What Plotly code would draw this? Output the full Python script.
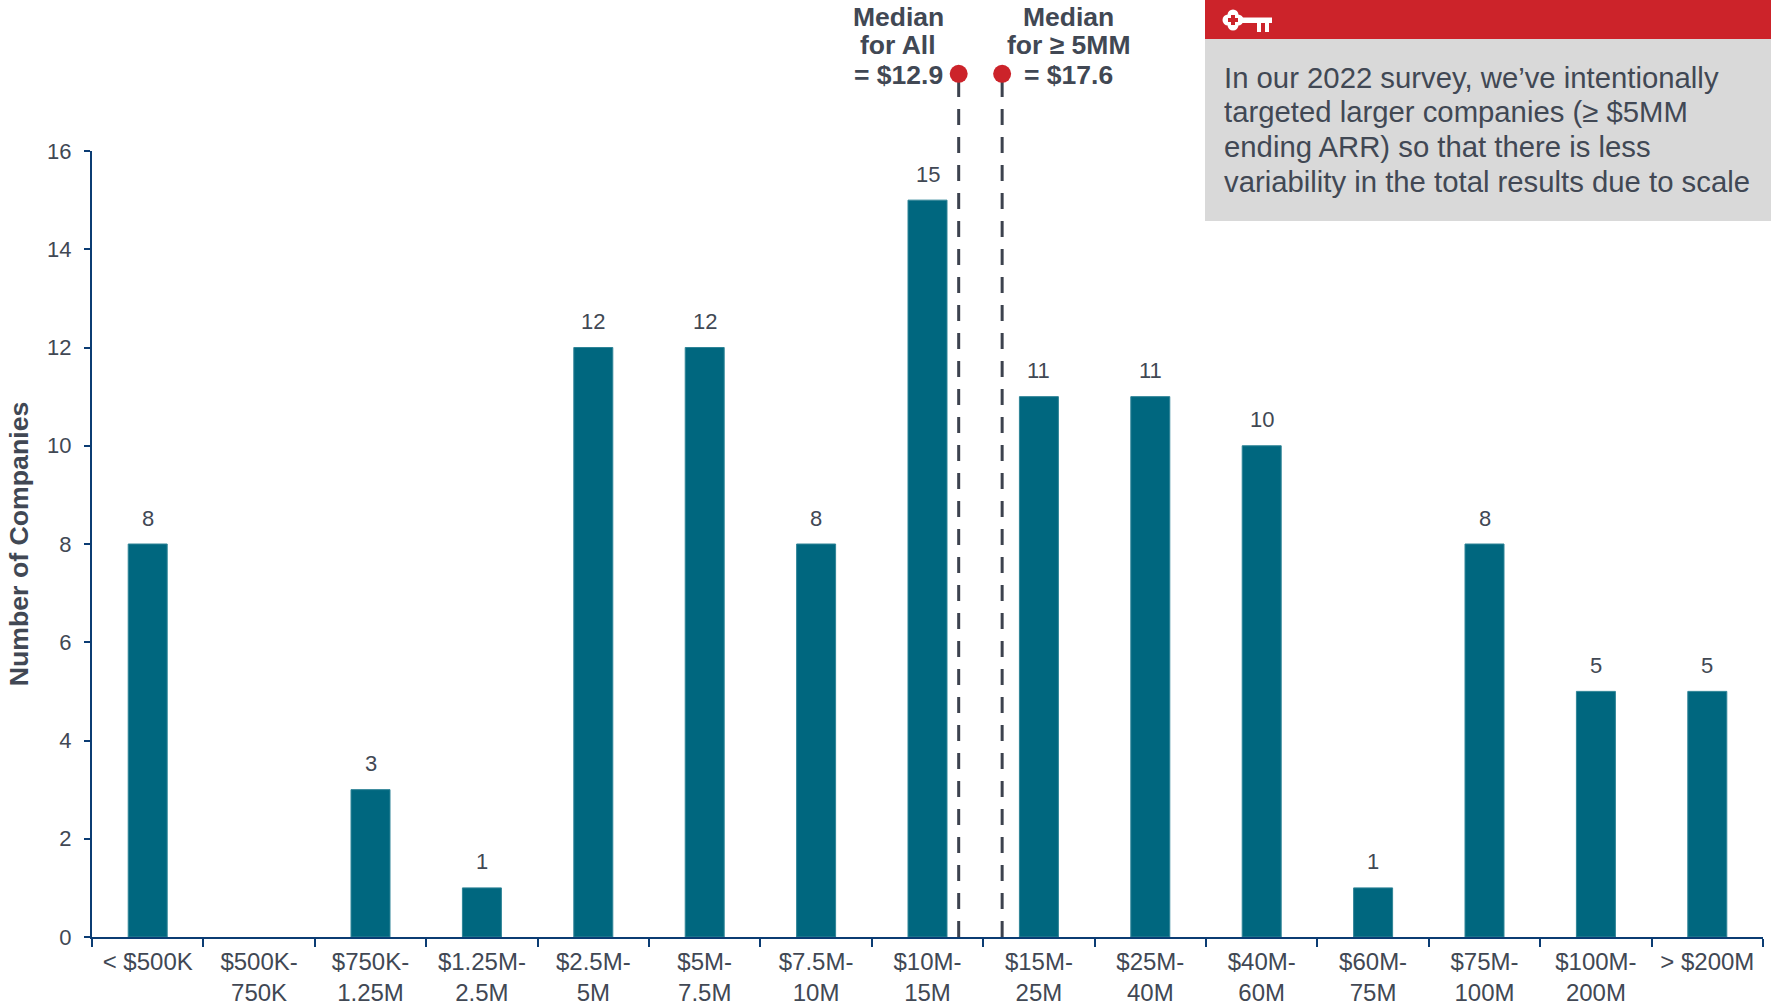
import plotly.graph_objects as go

# ARR bands and number of companies in each
categories = ["< $500K", "$500K-<br>750K", "$750K-<br>1.25M", "$1.25M-<br>2.5M", "$2.5M-<br>5M",
              "$5M-<br>7.5M", "$7.5M-<br>10M", "$10M-<br>15M", "$15M-<br>25M", "$25M-<br>40M",
              "$40M-<br>60M", "$60M-<br>75M", "$75M-<br>100M", "$100M-<br>200M", "> $200M"]
companies = [8, 0, 3, 1, 12, 12, 8, 15, 11, 11, 10, 1, 8, 5, 5]
y_ticks = [0, 2, 4, 6, 8, 10, 12, 14, 16]

# Median markers, placed on the band axis
median_positions = [7.28, 7.67]
median_top = 17.57

callout_lines = ["In our 2022 survey, we’ve intentionally",
                 "targeted larger companies (≥ $5MM",
                 "ending ARR) so that there is less",
                 "variability in the total results due to scale"]

W, H = 1771, 1005
L, R, T, B = 92, 1763, 151, 937   # bar axes
TOP = 40                          # top of the taller axes used by the median lines
FONT = "Liberation Sans"
TEXT = "#414854"
NAVY = "#0b3c73"
TEAL = "#00677f"
RED = "#cc232a"
UNIT = (B - T) / 16               # pixels per company


def px(x):
    return (x - L) / (R - L)


def py(y):
    return (B - y) / (B - TOP)


def label(text, x, y, size, anchor="center", bold=False):
    return dict(text=f"<b>{text}</b>" if bold else text, x=px(x), y=py(y), xref="paper", yref="paper",
                showarrow=False, xanchor=anchor, yanchor="middle",
                font=dict(family=FONT, size=size, color=TEXT))


def rect(x0, y0, x1, y1, color):
    return dict(type="rect", xref="paper", yref="paper", x0=px(x0), x1=px(x1), y0=py(y0), y1=py(y1),
                fillcolor=color, line_width=0, layer="above")


def disc(cx, cy, r, color):
    return dict(type="circle", xref="paper", yref="paper", x0=px(cx - r), x1=px(cx + r),
                y0=py(cy - r), y1=py(cy + r), fillcolor=color, line_width=0, layer="above")


fig = go.Figure()
fig.add_bar(x=categories, y=companies, width=0.35,
            marker=dict(color=TEAL, line=dict(color="#2f8497", width=[1 if v else 0 for v in companies])))

for pos in median_positions:
    fig.add_scatter(x=[pos, pos], y=[0, median_top], xaxis="x2", yaxis="y2", mode="lines",
                    line=dict(color="#3c424e", width=3, dash="16px,12px"))
    fig.add_scatter(x=[pos], y=[median_top], xaxis="x2", yaxis="y2", mode="markers",
                    marker=dict(color=RED, size=18))

# Callout box and key emblem
shapes = [rect(1205, 39, 1771, 221, "#d9d9d9"), rect(1205, 0, 1771, 39, RED)]
for dx, dy in [(-5, 0), (5, 0), (0, -5), (0, 5)]:
    shapes.append(disc(1233 + dx, 20 + dy, 5.5, "white"))
shapes += [rect(1231, 15, 1235, 25, RED), rect(1228, 18, 1238, 22, RED),
           rect(1240, 17.5, 1272, 23, "white"), rect(1257, 23, 1261, 32, "white"),
           rect(1265, 23, 1269, 32, "white")]

annotations = [label(line, 1222, 77 + i * 35, 29.3, "left") for i, line in enumerate(callout_lines)]
annotations += [label("Median", 898, 17.5, 26.5, bold=True), label("for All", 898, 44.5, 26.5, bold=True),
                label("= $12.9", 898, 75, 26.5, bold=True), label("Median", 1068, 17.5, 26.5, bold=True),
                label("for ≥ 5MM", 1068, 44.5, 26.5, bold=True), label("= $17.6", 1068, 75, 26.5, bold=True)]

# Value labels above each non-empty bar
annotations += [dict(x=c, y=v, xref="x", yref="y", text=str(v), showarrow=False, yanchor="middle", yshift=26,
                     font=dict(family=FONT, size=22, color=TEXT))
                for c, v in zip(categories, companies) if v]

fig.update_layout(
    width=W, height=H, autosize=False, margin=dict(l=L, r=W - R, t=TOP, b=H - B),
    paper_bgcolor="white", plot_bgcolor="rgba(0,0,0,0)", showlegend=False,
    font=dict(family=FONT, color=TEXT), shapes=shapes, annotations=annotations,
    xaxis=dict(type="category", range=[-0.5, 14.5], tickson="boundaries", ticks="outside", ticklen=8,
               tickwidth=2, tickcolor=NAVY, showline=True, linecolor=NAVY, linewidth=2, showgrid=False,
               tickfont=dict(family=FONT, size=24, color=TEXT), tickangle=0, zeroline=False,
               automargin=False, ticklabelstandoff=2),
    xaxis2=dict(anchor="y2", range=[-0.5, 14.5], visible=False, showgrid=False, zeroline=False),
    yaxis=dict(domain=[0, (B - T) / (B - TOP)], range=[0, 16], tickvals=y_ticks, ticks="outside", ticklen=6,
               tickwidth=2, tickcolor=NAVY, showline=True, linecolor=NAVY, linewidth=2, showgrid=False,
               zeroline=False, automargin=False, ticklabelstandoff=8,
               tickfont=dict(family=FONT, size=22, color=TEXT),
               title=dict(text="<b>Number of Companies</b>", standoff=11,
                          font=dict(family=FONT, size=26.7, color=TEXT))),
    yaxis2=dict(anchor="x2", domain=[0, 1], range=[0, (B - TOP) / UNIT], visible=False,
                showgrid=False, zeroline=False),
)

fig.write_html("out.html", config=dict(displayModeBar=False))
